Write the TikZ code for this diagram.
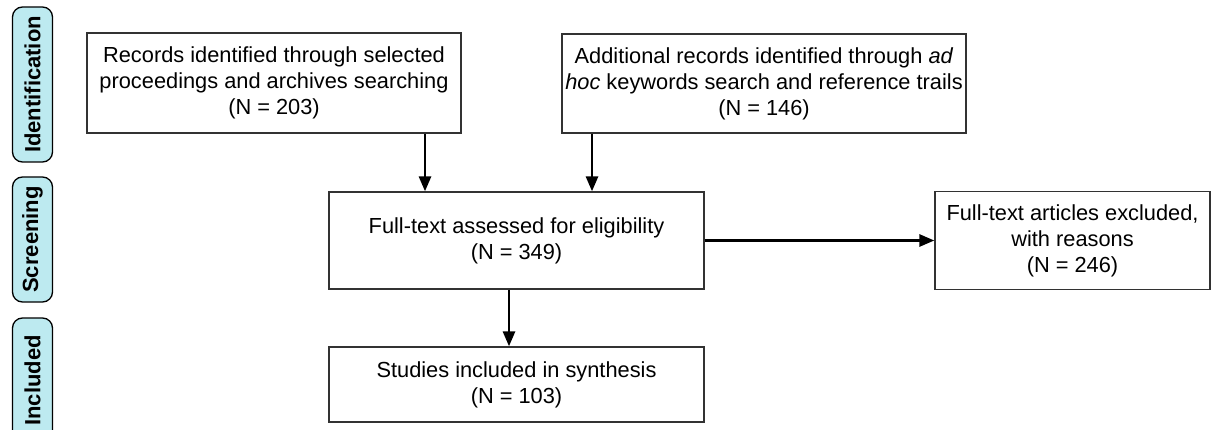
\documentclass[tikz,border=0pt]{standalone}
\usepackage{fontspec}
\setmainfont{Liberation Sans}
\usetikzlibrary{arrows.meta}
\definecolor{labfill}{RGB}{189,234,240}
\definecolor{boxline}{RGB}{50,50,50}
\begin{document}
\begin{tikzpicture}[x=1pt,y=-1pt,
  flowbox/.style={draw=boxline, line width=1.3pt, align=center, inner sep=0pt,
    font=\fontsize{21.8}{26}\selectfont},
  phase/.style={draw=black, line width=1.3pt, fill=labfill, rounded corners=10pt,
    rotate=90, inner sep=0pt, minimum height=40pt,
    font=\bfseries\fontsize{22}{26}\selectfont},
  arr/.style={line width=2.8pt, -{Triangle[width=12pt,length=15pt]}}]
\useasboundingbox (0,0) rectangle (1214,430);
% phase labels
\node[phase, minimum width=155pt] (pid) at (32.5,84.5) {Identification};
\node[phase, minimum width=125pt] (psc) at (32.5,239.5) {Screening};
\node[phase, minimum width=125pt] (pin) at (32.5,380.5) {Included};
% boxes
\node[flowbox, minimum width=374pt, minimum height=100pt] (A) at (274,83)
  {Records identified through selected\\ proceedings and archives searching\\ (N = 203)};
\node[flowbox, minimum width=404pt, minimum height=99pt] (B) at (764,83.5)
  {Additional records identified through \textit{ad}\\ \textit{hoc} keywords search and reference trails\\ (N = 146)};
\node[flowbox, minimum width=375pt, minimum height=97pt] (C) at (516.5,240.5)
  {Full-text assessed for eligibility\\ (N = 349)};
\node[flowbox, minimum width=375pt, minimum height=75pt] (D) at (516.5,384.5)
  {Studies included in synthesis\\ (N = 103)};
\node[flowbox, minimum width=275pt, minimum height=98pt] (E) at (1072.5,240.5)
  {Full-text articles excluded,\\ with reasons\\ (N = 246)};
% connectors
\draw[arr] (A.south -| 425,0) -- (C.north -| 425,0);
\draw[arr] (B.south -| 592,0) -- (C.north -| 592,0);
\draw[arr] (C.south -| 509,0) -- (D.north -| 509,0);
\draw[arr] (C.east) -- (E.west);
\end{tikzpicture}
\end{document}
